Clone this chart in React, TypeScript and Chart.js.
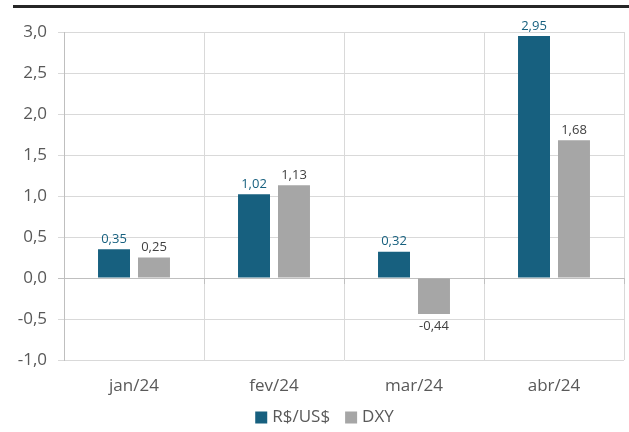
import React, { useEffect, useRef } from "react";
import { Chart, registerables } from "chart.js";

Chart.register(...registerables);

const categories = ["jan/24", "fev/24", "mar/24", "abr/24"];
const brlUsd = [0.35, 1.02, 0.32, 2.95];
const dxy = [0.25, 1.13, -0.44, 1.68];
const seriesNames = ["R$/US$", "DXY"];
const yMin = -1;
const yMax = 3;
const yStep = 0.5;

const BLUE = "#17607f";
const GRAY = "#a6a6a6";
const TEXT = "#595959";
const FONT = "'Open Sans', 'Noto Sans', sans-serif";

const fmt = (v: number, d: number) => v.toFixed(d).replace(".", ",");

const labelPlugin = {
  id: "valueLabels",
  afterDatasetsDraw(chart: any) {
    const ctx = chart.ctx;
    const colors = [BLUE, "#404040"];
    chart.data.datasets.forEach((ds: any, di: number) => {
      const meta = chart.getDatasetMeta(di);
      meta.data.forEach((bar: any, i: number) => {
        const v = ds.data[i];
        ctx.save();
        ctx.font = `13px ${FONT}`;
        ctx.fillStyle = colors[di];
        ctx.textAlign = "center";
        ctx.textBaseline = "middle";
        const y = v >= 0 ? bar.y - 10 : bar.y + 12;
        ctx.fillText(fmt(v, 2), bar.x, y);
        ctx.restore();
      });
    });
    // small tick marks on the zero line at category boundaries
    const x = chart.scales.x;
    const yS = chart.scales.y;
    const y0 = yS.getPixelForValue(0);
    ctx.save();
    ctx.strokeStyle = "#bfbfbf";
    ctx.lineWidth = 1;
    for (let i = 0; i <= categories.length; i++) {
      const px = Math.round(x.getPixelForValue(i - 0.5)) + 0.5;
      ctx.beginPath();
      ctx.moveTo(px, y0);
      ctx.lineTo(px, y0 + 6);
      ctx.stroke();
    }
    ctx.restore();
  },
  afterDraw(chart: any) {
    // legend
    const ctx = chart.ctx;
    ctx.save();
    ctx.font = `17px ${FONT}`;
    ctx.textBaseline = "middle";
    ctx.textAlign = "left";
    const box = 12;
    const gap = 5;
    const itemGap = 15;
    const cols = [BLUE, GRAY];
    const widths = seriesNames.map((n) => ctx.measureText(n).width);
    const total = widths.reduce((a, w) => a + box + gap + w, 0) + itemGap * (seriesNames.length - 1);
    let x = chart.width / 2 - total / 2 + 10;
    const cy = 417.5;
    seriesNames.forEach((n, i) => {
      ctx.fillStyle = cols[i];
      ctx.fillRect(x, cy - box / 2, box, box);
      x += box + gap;
      ctx.fillStyle = TEXT;
      ctx.fillText(n, x, cy);
      x += widths[i] + itemGap;
    });
    ctx.restore();
  },
};

export default function App() {
  const ref = useRef<HTMLCanvasElement>(null);
  useEffect(() => {
    if (!ref.current) return;
    const chart = new Chart(ref.current, {
      type: "bar",
      data: {
        labels: categories,
        datasets: [
          { label: seriesNames[0], data: brlUsd, backgroundColor: BLUE, barPercentage: 0.8, categoryPercentage: 0.571 },
          { label: seriesNames[1], data: dxy, backgroundColor: GRAY, barPercentage: 0.8, categoryPercentage: 0.571 },
        ],
      },
      options: {
        animation: false,
        responsive: false,
        maintainAspectRatio: false,
        layout: { padding: { top: 32, right: 5, left: 0, bottom: 32 } },
        plugins: {
          tooltip: { enabled: false },
          legend: { display: false },
        },
        scales: {
          x: {
            grid: { color: "#d9d9d9", offset: true, drawTicks: false },
            border: { display: false },
            ticks: { font: { family: FONT, size: 17 }, color: TEXT, padding: 16 },
            afterFit: (s: any) => { s.height = 40; },
          },
          y: {
            min: yMin,
            max: yMax,
            ticks: {
              stepSize: yStep,
              font: { family: FONT, size: 17 },
              color: TEXT,
              padding: 11,
              callback: (v: any) => fmt(Number(v), 1),
            },
            grid: {
              color: (c: any) => (c.tick && c.tick.value === 0 ? "#bfbfbf" : "#d9d9d9"),
              tickLength: 6,
            },
            border: { color: "#bfbfbf" },
            afterFit: (s: any) => { s.width = 64; },
          },
        },
      },
      plugins: [labelPlugin],
    });
    return () => chart.destroy();
  }, []);
  return (
    <div style={{ position: "absolute", left: 0, top: 0, width: 629, height: 432, background: "#fff" }}>
      <div style={{ position: "absolute", left: 13, top: 5, width: 616, height: 3, background: "#262626" }} />
      <canvas ref={ref} width={629} height={432} style={{ position: "absolute", left: 0, top: 0 }} />
    </div>
  );
}
